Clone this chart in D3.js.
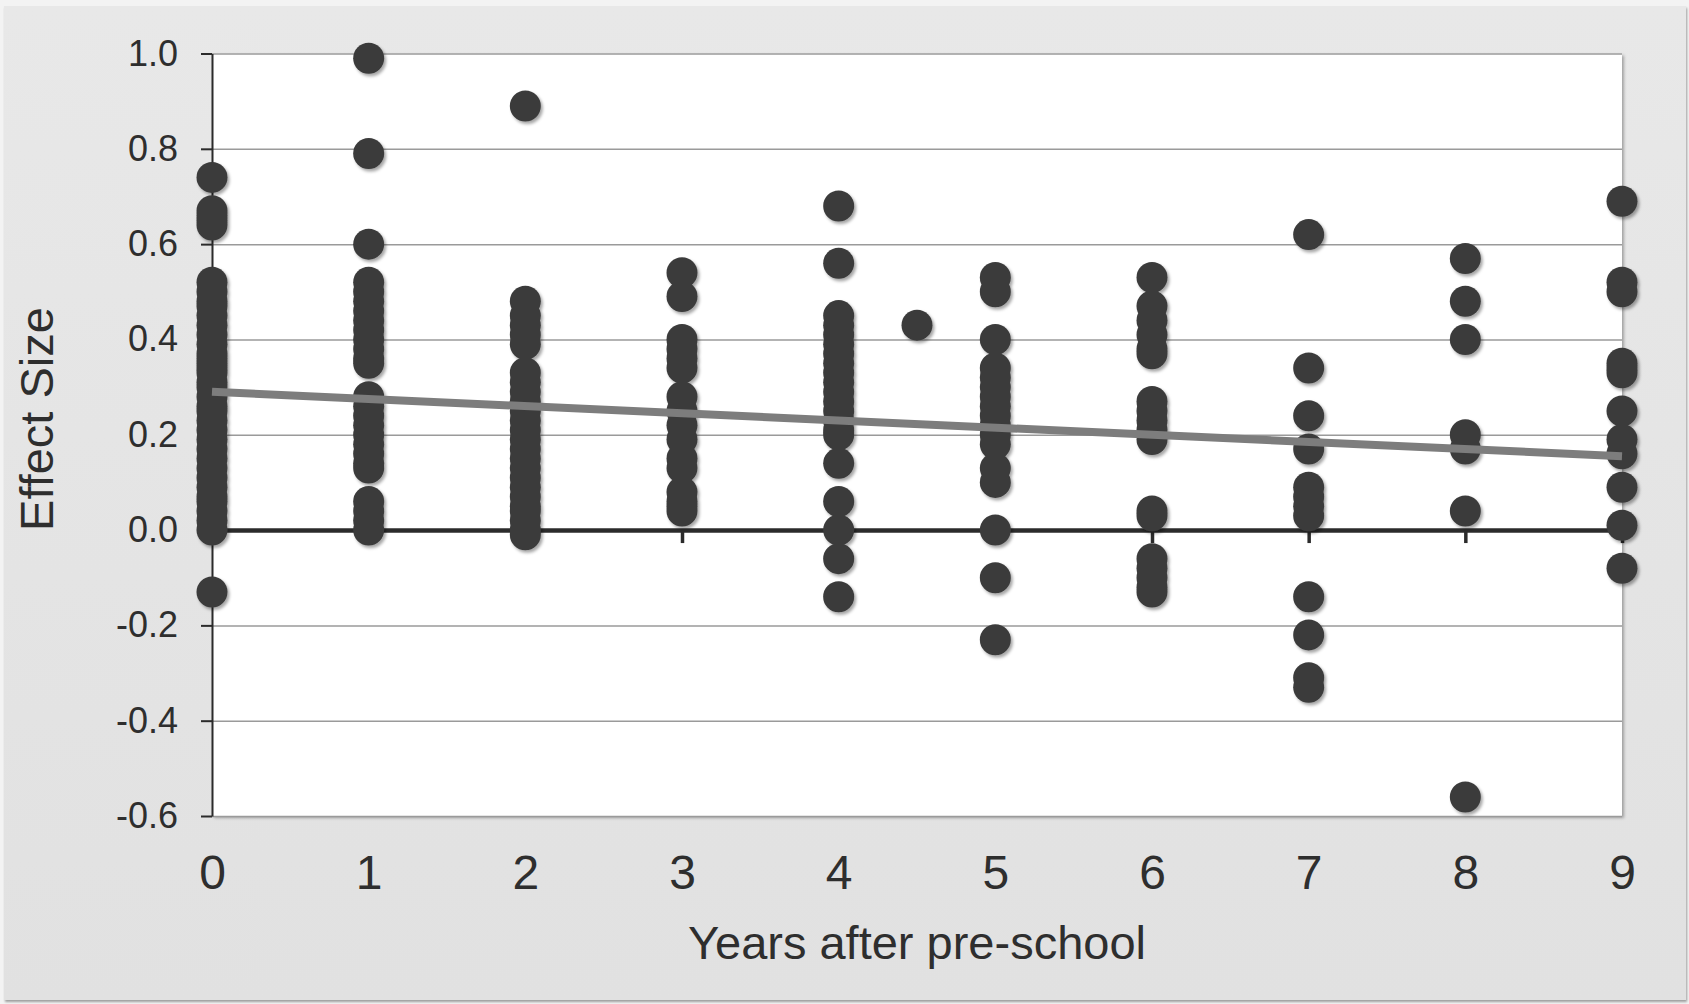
<!DOCTYPE html>
<html>
<head>
<meta charset="utf-8">
<title>Effect size by years after pre-school</title>
<script src="https://cdn.jsdelivr.net/npm/d3@7"></script>
<style>
  html, body { margin: 0; padding: 0; background: #f3f3f3; }
  svg { display: block; }
  text { font-family: "Liberation Sans", Arial, sans-serif; fill: #2e2e2e; }
</style>
</head>
<body>
<svg id="chart" width="1689" height="1004"></svg>
<script>
(function () {
  'use strict';

  // Effect sizes, one list per year after pre-school
  const YEARS = [0, 1, 2, 3, 4, 4.5, 5, 6, 7, 8, 9];
  const ES_Y0 = [0.74, 0.67, 0.66, 0.65, 0.64, 0.52, 0.50, 0.48, 0.47, 0.45, 0.43, 0.41, 0.39,
    0.37, 0.36, 0.35, 0.34, 0.33, 0.31, 0.30, 0.28, 0.26, 0.25, 0.23, 0.21, 0.19, 0.17, 0.15,
    0.13, 0.11, 0.09, 0.07, 0.06, 0.04, 0.02, 0.00, -0.13];
  const ES_Y1 = [0.99, 0.79, 0.60, 0.52, 0.50, 0.48, 0.46, 0.44, 0.42, 0.40, 0.38, 0.36, 0.35,
    0.28, 0.26, 0.24, 0.22, 0.20, 0.18, 0.16, 0.14, 0.13, 0.06, 0.04, 0.02, 0.00];
  const ES_Y2 = [0.89, 0.48, 0.45, 0.43, 0.41, 0.39, 0.33, 0.31, 0.29, 0.27, 0.25, 0.23, 0.21,
    0.19, 0.17, 0.15, 0.13, 0.11, 0.09, 0.07, 0.05, 0.04, 0.02, 0.00, -0.01];
  const ES_Y3 = [0.54, 0.49, 0.40, 0.38, 0.36, 0.34, 0.28, 0.25, 0.22, 0.19, 0.15, 0.13, 0.08,
    0.06, 0.05, 0.04];
  const ES_Y4 = [0.68, 0.56, 0.45, 0.43, 0.41, 0.39, 0.37, 0.35, 0.33, 0.31, 0.29, 0.27, 0.25,
    0.23, 0.21, 0.20, 0.14, 0.06, 0.00, -0.06, -0.14];
  const ES_Y4_5 = [0.43];
  const ES_Y5 = [0.53, 0.50, 0.40, 0.34, 0.32, 0.30, 0.28, 0.26, 0.24, 0.22, 0.20, 0.18, 0.13,
    0.10, 0.00, -0.10, -0.23];
  const ES_Y6 = [0.53, 0.47, 0.44, 0.41, 0.38, 0.37, 0.27, 0.25, 0.23, 0.21, 0.19, 0.04, 0.03,
    -0.06, -0.08, -0.10, -0.12, -0.13];
  const ES_Y7 = [0.62, 0.34, 0.24, 0.17, 0.09, 0.07, 0.05, 0.03, -0.14, -0.22, -0.31, -0.33];
  const ES_Y8 = [0.57, 0.48, 0.40, 0.20, 0.17, 0.04, -0.56];
  const ES_Y9 = [0.69, 0.52, 0.50, 0.35, 0.34, 0.33, 0.25, 0.19, 0.16, 0.09, 0.01, -0.08];
  const ES_BY_YEAR = [ES_Y0, ES_Y1, ES_Y2, ES_Y3, ES_Y4, ES_Y4_5, ES_Y5, ES_Y6, ES_Y7, ES_Y8, ES_Y9];

  // Linear trend line, ends
  const TREND_YEARS = [0, 9];
  const TREND_VALUES = [0.29, 0.155];

  const X_TICKS = [0, 1, 2, 3, 4, 5, 6, 7, 8, 9];
  const Y_TICKS = [-0.6, -0.4, -0.2, 0.0, 0.2, 0.4, 0.6, 0.8, 1.0];
  const X_TITLE = 'Years after pre-school';
  const Y_TITLE = 'Effect Size';

  const W = 1689, H = 1004;
  const plot = { left: 212, right: 1622, top: 53.5, bottom: 816 };

  const svg = d3.select('#chart');
  const defs = svg.append('defs');

  const grad = defs.append('linearGradient').attr('id', 'panel-bg')
    .attr('x1', 0).attr('y1', 0).attr('x2', 0).attr('y2', 1);
  grad.append('stop').attr('offset', '0%').attr('stop-color', '#e8e8e8');
  grad.append('stop').attr('offset', '100%').attr('stop-color', '#e1e1e1');

  defs.append('filter').attr('id', 'panel-shadow')
    .attr('x', '-2%').attr('y', '-2%').attr('width', '104%').attr('height', '104%')
    .append('feDropShadow')
    .attr('dx', 1).attr('dy', 2).attr('stdDeviation', 1.2)
    .attr('flood-color', '#000').attr('flood-opacity', 0.35);

  defs.append('filter').attr('id', 'plot-shadow')
    .attr('x', '-2%').attr('y', '-2%').attr('width', '104%').attr('height', '104%')
    .append('feDropShadow')
    .attr('dx', 2).attr('dy', 2).attr('stdDeviation', 1.5)
    .attr('flood-color', '#000').attr('flood-opacity', 0.3);

  defs.append('filter').attr('id', 'dot-shadow')
    .attr('x', '-10%').attr('y', '-10%').attr('width', '120%').attr('height', '120%')
    .append('feDropShadow')
    .attr('dx', 2).attr('dy', 2.5).attr('stdDeviation', 1.6)
    .attr('flood-color', '#000').attr('flood-opacity', 0.35);

  // Background panel
  svg.append('rect')
    .attr('x', 4).attr('y', 6)
    .attr('width', W - 7).attr('height', H - 10)
    .attr('fill', 'url(#panel-bg)')
    .attr('filter', 'url(#panel-shadow)');

  const x = d3.scaleLinear().domain([0, 9]).range([plot.left, plot.right]);
  const y = d3.scaleLinear().domain([-0.6, 1.0]).range([plot.bottom, plot.top]);

  // Plot area
  svg.append('rect')
    .attr('x', plot.left).attr('y', plot.top)
    .attr('width', plot.right - plot.left).attr('height', plot.bottom - plot.top)
    .attr('fill', '#fff')
    .attr('filter', 'url(#plot-shadow)');

  // Horizontal gridlines
  svg.append('g')
    .attr('transform', `translate(${plot.left},0)`)
    .call(d3.axisLeft(y).tickValues(Y_TICKS).tickSize(-(plot.right - plot.left)).tickFormat(''))
    .call(g => g.select('.domain').remove())
    .call(g => g.selectAll('line').attr('stroke', '#9a9a9a').attr('stroke-width', 1.5));

  // Zero line with x tick marks
  svg.append('g')
    .attr('transform', `translate(0,${y(0)})`)
    .call(d3.axisBottom(x).tickValues(X_TICKS).tickSize(13).tickSizeOuter(0).tickFormat(''))
    .call(g => g.select('.domain').attr('stroke', '#2b2b2b').attr('stroke-width', 4.5))
    .call(g => g.selectAll('.tick line').attr('stroke', '#2b2b2b').attr('stroke-width', 3.5));

  // Y axis
  svg.append('g')
    .attr('transform', `translate(${plot.left},0)`)
    .call(d3.axisLeft(y).tickValues(Y_TICKS).tickSize(11).tickSizeOuter(0).tickPadding(23)
      .tickFormat(d3.format('.1f')))
    .call(g => g.select('.domain').attr('stroke', '#2b2b2b').attr('stroke-width', 2))
    .call(g => g.selectAll('.tick line').attr('stroke', '#2b2b2b').attr('stroke-width', 2))
    .call(g => g.selectAll('.tick text')
      .attr('font-size', 36).attr('font-family', '"Liberation Sans", Arial, sans-serif')
      .attr('fill', '#2e2e2e').text(d => d.toFixed(1).replace('-0.0', '0.0')));

  // X tick labels along the bottom edge
  svg.append('g')
    .attr('transform', `translate(0,${plot.bottom})`)
    .call(d3.axisBottom(x).tickValues(X_TICKS).tickSize(0).tickPadding(39).tickFormat(d3.format('d')))
    .call(g => g.select('.domain').remove())
    .call(g => g.selectAll('.tick text')
      .attr('font-size', 48).attr('font-family', '"Liberation Sans", Arial, sans-serif')
      .attr('fill', '#2e2e2e'));

  // Data points
  const points = [];
  YEARS.forEach((yr, i) => ES_BY_YEAR[i].forEach(v => points.push({ year: yr, es: v })));

  svg.append('g')
    .attr('filter', 'url(#dot-shadow)')
    .selectAll('circle')
    .data(points)
    .join('circle')
    .attr('cx', d => x(d.year))
    .attr('cy', d => y(d.es))
    .attr('r', 15.5)
    .attr('fill', '#3b3b3b');

  // Trend line
  const trend = TREND_YEARS.map((t, i) => [t, TREND_VALUES[i]]);
  svg.append('path')
    .datum(trend)
    .attr('d', d3.line().x(d => x(d[0])).y(d => y(d[1])))
    .attr('fill', 'none')
    .attr('stroke', '#7d7d7d')
    .attr('stroke-width', 8);

  // Axis titles
  svg.append('text')
    .attr('x', (plot.left + plot.right) / 2)
    .attr('y', 959)
    .attr('text-anchor', 'middle')
    .attr('font-size', 47)
    .text(X_TITLE);

  svg.append('text')
    .attr('transform', `translate(53,419) rotate(-90)`)
    .attr('text-anchor', 'middle')
    .attr('font-size', 47)
    .text(Y_TITLE);
})();
</script>
</body>
</html>
